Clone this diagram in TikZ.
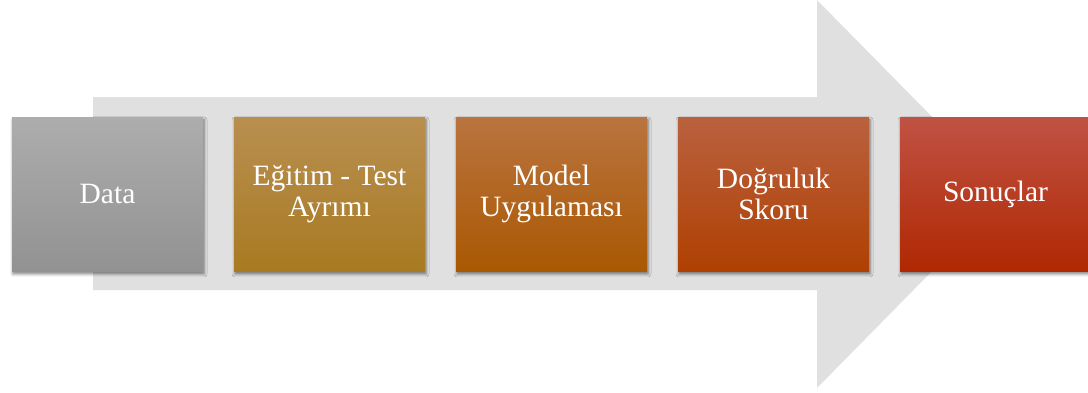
\documentclass[tikz,border=0pt]{standalone}
\usepackage{fontspec}
\setmainfont{Liberation Serif}
\usetikzlibrary{shadows.blur}
\definecolor{arrowgray}{HTML}{E0E0E0}
\definecolor{c1t}{HTML}{ADADAD}\definecolor{c1b}{HTML}{929292}
\definecolor{c2t}{HTML}{B98F50}\definecolor{c2b}{HTML}{A87A22}
\definecolor{c3t}{HTML}{B9743F}\definecolor{c3b}{HTML}{AA5802}
\definecolor{c4t}{HTML}{BA613F}\definecolor{c4b}{HTML}{AF4002}
\definecolor{c5t}{HTML}{C05244}\definecolor{c5b}{HTML}{B02802}
\tikzset{
  stagebox/.style={minimum width=191pt, minimum height=154pt, inner sep=0pt,
    align=center, text=white, font=\fontsize{29.5}{31}\selectfont,
    blur shadow={shadow xshift=1pt, shadow yshift=-3pt, shadow blur radius=3pt, shadow opacity=50}},
}
\begin{document}
\begin{tikzpicture}[x=1pt,y=1pt]
\useasboundingbox (0,0) rectangle (1088,392);
\fill[arrowgray] (93,295) -- (817,295) -- (817,392) -- (1008,198) -- (817,4) -- (817,102) -- (93,102) -- cycle;
\node[stagebox, top color=c1t, bottom color=c1b] (data) at (107.5,198) {Data};
\node[stagebox, top color=c2t, bottom color=c2b] (split) at (329.5,198) {Eğitim - Test\\Ayrımı};
\node[stagebox, top color=c3t, bottom color=c3b] (model) at (551.5,198) {Model\\Uygulaması};
\node[stagebox, top color=c4t, bottom color=c4b] (score) at (773.5,198) {Doğruluk\\Skoru};
\node[stagebox, top color=c5t, bottom color=c5b] (result) at (995.5,198) {Sonuçlar};
\end{tikzpicture}
\end{document}
